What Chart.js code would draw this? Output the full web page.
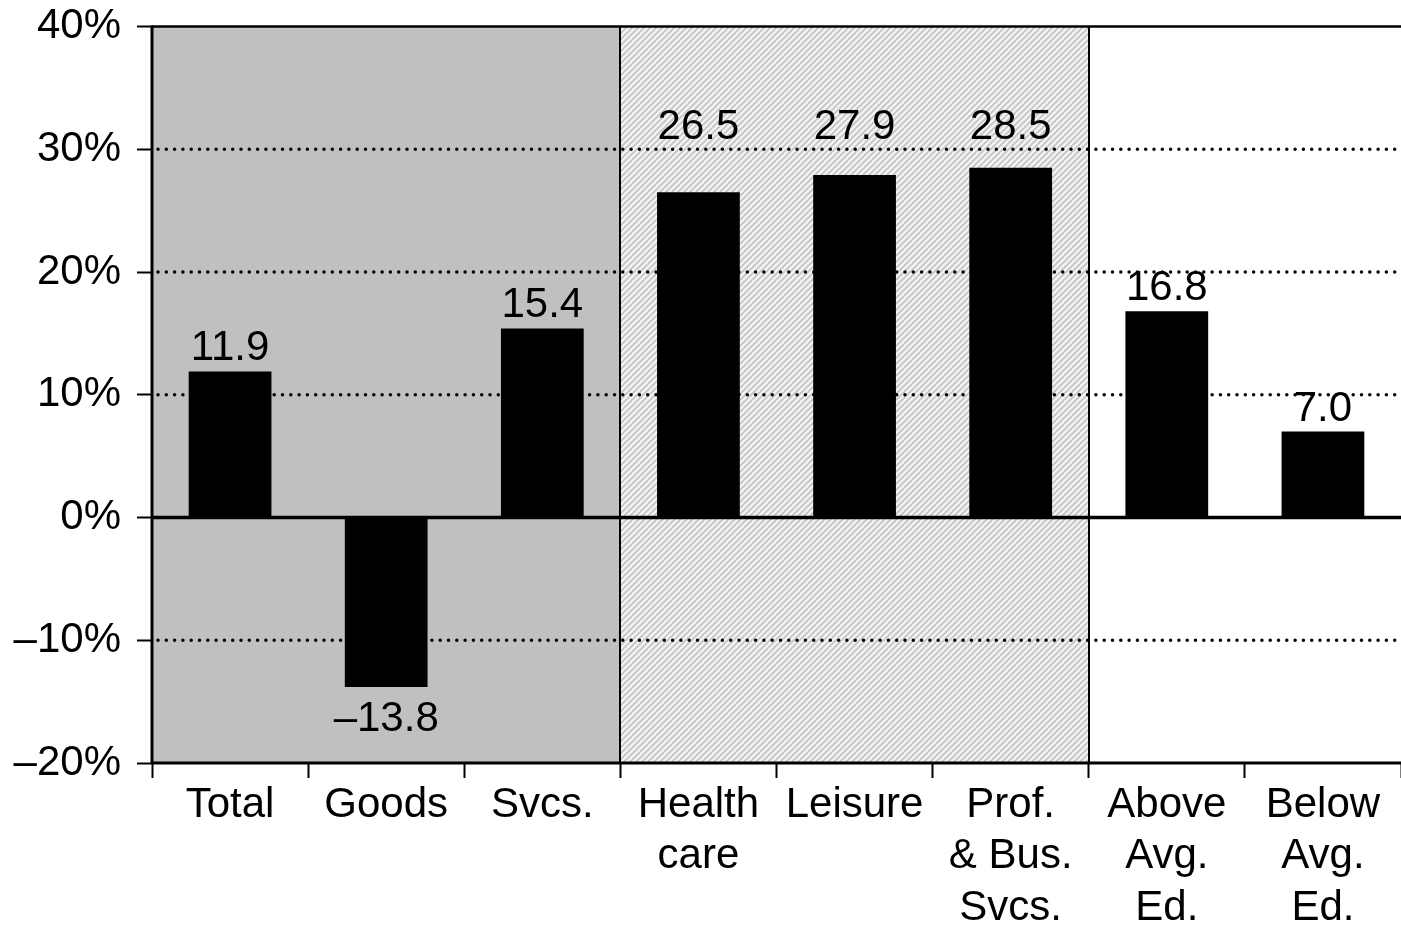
<!DOCTYPE html>
<html>
<head>
<meta charset="utf-8">
<script src="https://cdn.jsdelivr.net/npm/chart.js@4/dist/chart.umd.min.js"></script>
<style>
  html, body { margin: 0; padding: 0; background: #fff; }
  #wrap { width: 1401px; height: 926px; }
</style>
</head>
<body>
<div id="wrap"><canvas id="chart" width="1401" height="926"></canvas></div>
<script>
// data
const categories = [
  'Total', 'Goods', 'Svcs.',
  ['Health', 'care'], 'Leisure', ['Prof.', '& Bus.', 'Svcs.'],
  ['Above', 'Avg.', 'Ed.'], ['Below', 'Avg.', 'Ed.']
];
const growth = [11.9, -13.8, 15.4, 26.5, 27.9, 28.5, 16.8, 7.0];
// background band each category sits in
const bands = ['gray', 'gray', 'gray', 'hatch', 'hatch', 'hatch', 'none', 'none'];
const yTicks = [-20, -10, 0, 10, 20, 30, 40];

const FONT = "'Liberation Sans', Arial, sans-serif";
const fmt = v => (v < 0 ? '\u2013' : '') + Math.abs(v).toFixed(1);

// diagonal hatch for the middle band
function hatchPattern(ctx) {
  const p = 6;
  const c = document.createElement('canvas');
  c.width = p; c.height = p;
  const g = c.getContext('2d');
  g.fillStyle = '#f6f6f6';
  g.fillRect(0, 0, p, p);
  g.strokeStyle = '#c8c8c8';
  g.lineWidth = 2;
  g.beginPath();
  g.moveTo(-1, p + 1); g.lineTo(p + 1, -1);
  g.moveTo(-1, 1); g.lineTo(1, -1);
  g.moveTo(p - 1, p + 1); g.lineTo(p + 1, p - 1);
  g.stroke();
  return ctx.createPattern(c, 'repeat');
}

const backdrop = {
  id: 'backdrop',
  beforeDatasetsDraw(chart) {
    const { ctx, chartArea: a, scales: { x, y } } = chart;
    const half = (x.getPixelForValue(1) - x.getPixelForValue(0)) / 2;
    const pat = hatchPattern(ctx);
    ctx.save();
    bands.forEach((b, i) => {
      if (b === 'none') return;
      const cx = x.getPixelForValue(i);
      ctx.fillStyle = b === 'gray' ? '#c0c0c0' : pat;
      ctx.fillRect(cx - half, a.top, half * 2 + 0.5, a.bottom - a.top);
    });
    // dotted grid
    ctx.strokeStyle = '#000';
    ctx.lineWidth = 3.5;
    ctx.lineCap = 'round';
    ctx.setLineDash([0, 8.3]);
    yTicks.forEach(v => {
      if (v === 0 || v === y.min || v === y.max) return;
      const py = y.getPixelForValue(v);
      ctx.beginPath();
      ctx.moveTo(a.left + 6, py);
      ctx.lineTo(a.right, py);
      ctx.stroke();
    });
    ctx.restore();
  },
  afterDatasetsDraw(chart) {
    const { ctx, chartArea: a, scales: { x, y } } = chart;
    const half = (x.getPixelForValue(1) - x.getPixelForValue(0)) / 2;
    ctx.save();
    ctx.strokeStyle = '#000';
    // band separators
    ctx.lineWidth = 2;
    for (let i = 1; i < bands.length; i++) {
      if (bands[i] === bands[i - 1]) continue;
      const px = Math.round(x.getPixelForValue(i) - half);
      ctx.beginPath();
      ctx.moveTo(px, a.top);
      ctx.lineTo(px, a.bottom);
      ctx.stroke();
    }
    // frame: top, left axis, bottom axis
    ctx.lineWidth = 2.5;
    ctx.beginPath();
    ctx.moveTo(a.left, a.top);
    ctx.lineTo(a.right, a.top);
    ctx.stroke();
    ctx.lineWidth = 3;
    ctx.beginPath();
    ctx.moveTo(a.left, a.top - 1);
    ctx.lineTo(a.left, a.bottom + 1);
    ctx.moveTo(a.left, a.bottom);
    ctx.lineTo(a.right, a.bottom);
    ctx.stroke();
    // zero line
    const y0 = y.getPixelForValue(0);
    ctx.lineWidth = 3.5;
    ctx.beginPath();
    ctx.moveTo(a.left, y0);
    ctx.lineTo(a.right, y0);
    ctx.stroke();

    // value labels
    ctx.fillStyle = '#000';
    ctx.font = '42px ' + FONT;
    ctx.textAlign = 'center';
    const meta = chart.getDatasetMeta(0);
    meta.data.forEach((bar, i) => {
      const v = growth[i];
      if (v < 0) {
        ctx.textBaseline = 'top';
        ctx.fillText(fmt(v), bar.x, bar.y + 12);
      } else {
        ctx.textBaseline = 'alphabetic';
        let by = bar.y - 11;
        // the tall middle group shares one label row
        if (bands[i] === 'hatch') by = y.getPixelForValue(30) - 10;
        ctx.fillText(fmt(v), bar.x, by);
      }
    });
    ctx.restore();
  }
};

new Chart(document.getElementById('chart'), {
  type: 'bar',
  data: {
    labels: categories,
    datasets: [{
      data: growth,
      backgroundColor: '#000',
      borderWidth: 0,
      categoryPercentage: 1,
      barPercentage: 0.53
    }]
  },
  options: {
    responsive: false,
    animation: false,
    devicePixelRatio: 1,
    layout: { padding: { top: 24, left: 0, right: 0, bottom: 0 } },
    plugins: { legend: { display: false }, tooltip: { enabled: false } },
    scales: {
      x: {
        afterFit: s => { s.height = 163; },
        grid: {
          offset: true,
          drawOnChartArea: false,
          drawTicks: true,
          tickLength: 15,
          tickColor: '#000',
          tickWidth: 2
        },
        border: { display: false },
        ticks: {
          color: '#000',
          font: { family: FONT, size: 42, lineHeight: 1.22 },
          padding: 2,
          maxRotation: 0,
          autoSkip: false
        }
      },
      y: {
        min: -20,
        max: 40,
        afterFit: s => { s.width = 152; },
        afterBuildTicks: s => { s.ticks = yTicks.map(v => ({ value: v })); },
        grid: {
          drawOnChartArea: false,
          drawTicks: true,
          tickLength: 15,
          tickColor: '#000',
          tickWidth: 2
        },
        border: { display: false },
        ticks: {
          color: '#000',
          font: { family: FONT, size: 42, lineHeight: 0.5 },
          padding: 16,
          callback: v => (v < 0 ? '\u2013' : '') + Math.abs(v) + '%'
        }
      }
    }
  },
  plugins: [backdrop]
});
</script>
</body>
</html>
